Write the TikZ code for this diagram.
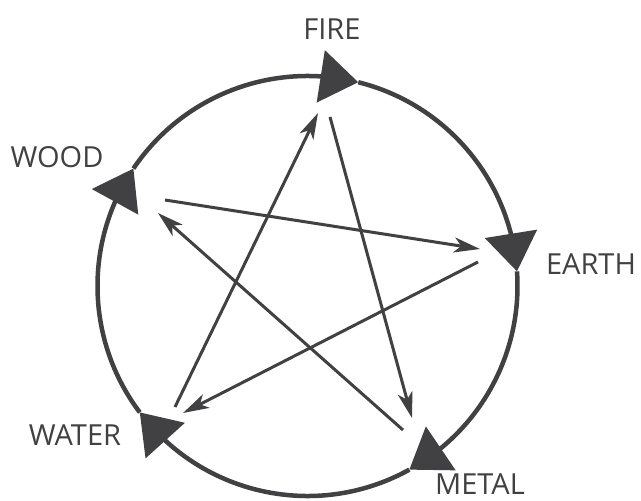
\documentclass[tikz,border=0pt]{standalone}
\usepackage{fontspec}
\setmainfont{Open Sans}
\usepackage{xcolor}
\usepackage{tikz}
\usetikzlibrary{arrows.meta, bending}
\definecolor{ink}{RGB}{65,64,66}

\begin{document}
\begin{tikzpicture}[x=1pt, y=1pt,
  lbl/.style={inner sep=0pt, text=ink, font=\fontsize{29}{29}\selectfont},
  ring/.style={draw=ink, line width=4.5pt, -{Triangle[length=38pt, width=52pt, flex]}},
  ray/.style={draw=ink, line width=3pt, -{Stealth[length=26pt, width=15pt, inset=7pt]}}
]
\useasboundingbox (-307.5,-215) rectangle (333.5,286);
\def\R{210}
\node[lbl] (fire)  at (24.5,257)   {FIRE};
\node[lbl] (wood)  at (-250.5,129) {WOOD};
\node[lbl] (earth) at (283.5,22)   {EARTH};
\node[lbl] (water) at (-232.5,-149) {WATER};
\node[lbl] (metal) at (172.5,-198) {METAL};
\coordinate (fire-r)  at (76:\R);
\coordinate (earth-r) at (4:\R);
\coordinate (metal-r) at (-61:\R);
\coordinate (water-r) at (217:\R);
\coordinate (wood-r)  at (146:\R);
\coordinate (fire-in)   at (10.5,173);
\coordinate (fire-out)  at (22.5,169);
\coordinate (earth-in)  at (172.5,37);
\coordinate (earth-out) at (170.5,24);
\coordinate (metal-in)  at (104.5,-132);
\coordinate (metal-out) at (95.5,-144);
\coordinate (water-in)  at (-124.5,-127);
\coordinate (water-out) at (-132.5,-121);
\coordinate (wood-in)   at (-149.5,73);
\coordinate (wood-out)  at (-142.5,86);
\draw[ring] (wood-r) arc[start angle=146, end angle=76, radius=\R];
\draw[ring] (fire-r) arc[start angle=76, end angle=4, radius=\R];
\draw[ring] (earth-r) arc[start angle=4, end angle=-61, radius=\R];
\draw[ring] (metal-r) arc[start angle=-61, end angle=-143, radius=\R];
\draw[ring] (water-r) arc[start angle=217, end angle=146, radius=\R];
\draw[ray] (wood-out) -- (earth-in);
\draw[ray] (earth-out) -- (water-in);
\draw[ray] (water-out) -- (fire-in);
\draw[ray] (fire-out) -- (metal-in);
\draw[ray] (metal-out) -- (wood-in);
\end{tikzpicture}
\end{document}
